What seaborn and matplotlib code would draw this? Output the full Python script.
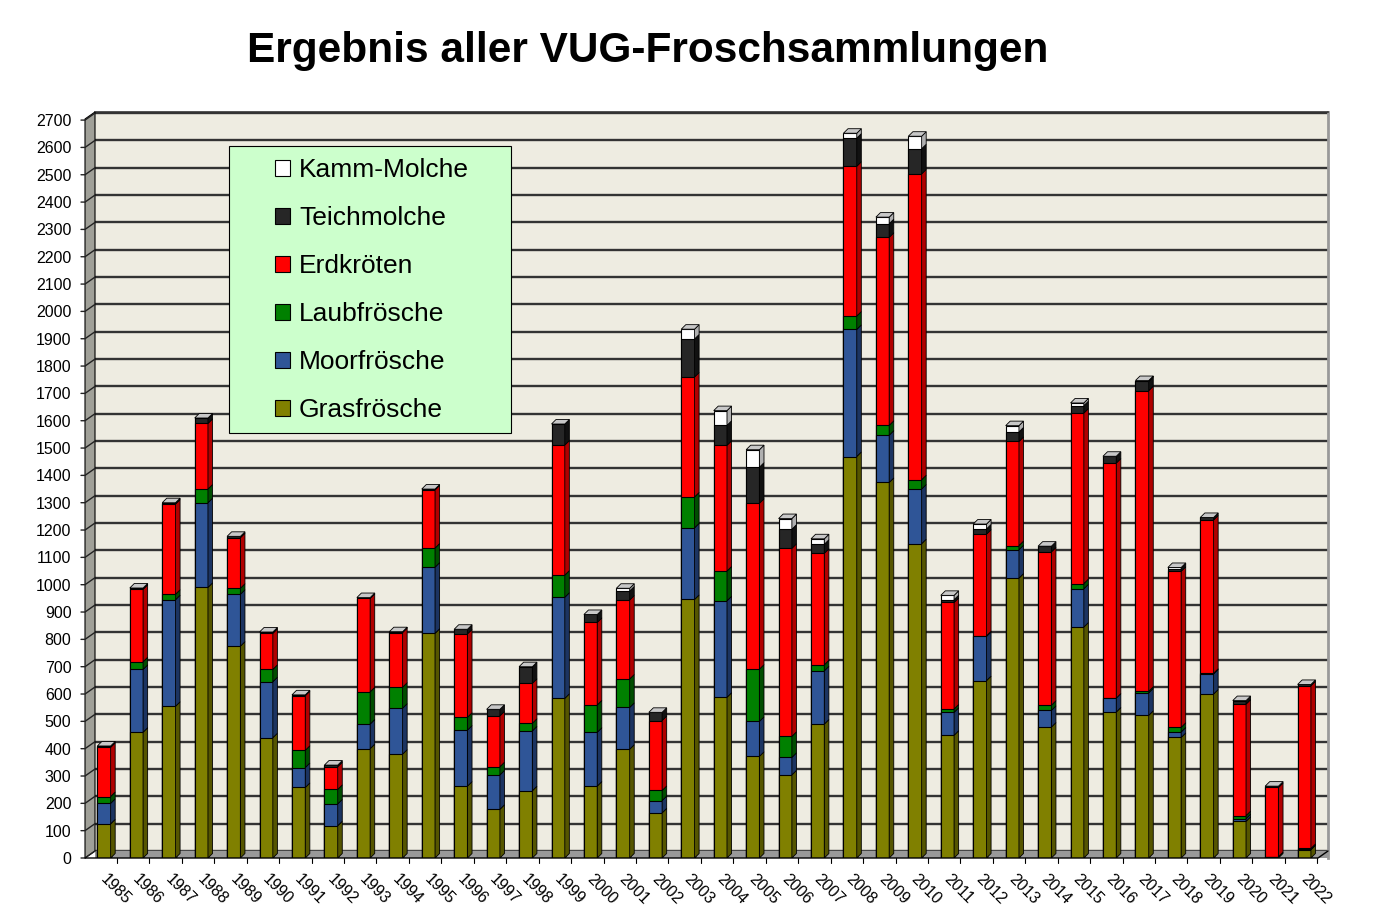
import numpy as np
import pandas as pd
import seaborn as sns
import matplotlib.pyplot as plt
import matplotlib.transforms as mtransforms
from matplotlib.patches import Polygon, Patch, Rectangle
from matplotlib.lines import Line2D

# --- DATA ---
years = [str(y) for y in range(1985, 2023)]
gras = [125, 460, 555, 990, 775, 440, 258, 118, 400, 380,
        822, 263, 178, 246, 584, 263, 398, 165, 946, 588,
        372, 304, 490, 1469, 1374, 1150, 449, 649, 1024, 479,
        845, 534, 522, 441, 600, 134, 5, 30]
moor = [75, 230, 390, 310, 190, 205, 73, 80, 90, 168,
        242, 205, 126, 219, 370, 197, 153, 45, 262, 353,
        128, 64, 195, 465, 173, 200, 84, 162, 104, 61,
        140, 51, 82, 20, 74, 10, 0, 2]
laub = [25, 28, 20, 50, 22, 45, 63, 53, 118, 77,
        70, 47, 30, 28, 81, 100, 104, 37, 113, 109,
        191, 77, 22, 49, 36, 34, 12, 2, 15, 19,
        19, 0, 6, 17, 2, 11, 0, 3]
erd = [180, 265, 330, 240, 185, 132, 200, 83, 342, 200,
       213, 305, 186, 146, 476, 302, 289, 256, 439, 460,
       607, 688, 408, 548, 688, 1119, 390, 372, 381, 561,
       624, 860, 1100, 571, 561, 408, 253, 595]
teich = [5, 5, 5, 20, 5, 5, 3, 6, 3, 3,
         3, 17, 24, 61, 77, 29, 33, 30, 139, 73,
         132, 70, 33, 103, 50, 92, 10, 19, 35, 21,
         27, 25, 34, 10, 9, 13, 5, 5]
kamm = [0, 0, 0, 0, 0, 0, 0, 0, 0, 0,
        0, 0, 0, 0, 0, 0, 10, 0, 36, 54,
        64, 39, 20, 18, 24, 46, 16, 18, 23, 0,
        10, 0, 3, 4, 0, 0, 0, 0]

series = ["Grasfrösche", "Moorfrösche", "Laubfrösche",
          "Erdkröten", "Teichmolche", "Kamm-Molche"]
y_ticks = list(range(0, 2800, 100))

# --- STYLE ---
FRONT = {"Grasfrösche": "#808000", "Moorfrösche": "#2f5597",
         "Laubfrösche": "#008000", "Erdkröten": "#ff0000",
         "Teichmolche": "#262626", "Kamm-Molche": "#ffffff"}
SIDE = {"Grasfrösche": "#555500", "Moorfrösche": "#1c3461",
        "Laubfrösche": "#004d00", "Erdkröten": "#b00000",
        "Teichmolche": "#111111", "Kamm-Molche": "#b0b0b0"}

W, H = 1381, 914
AX_L, AX_R, AX_T, AX_B = 95, 1328, 112, 858     # back wall, pixels
PX_PER_UNIT = 0.2733
CENTER0, STEP = 104, 32.44                      # bar centres in pixels
BAR_W = 0.41
WALL_DX, WALL_DY = 10, 7                         # wall depth in px
BAR_DX, BAR_DY = 0.14, 16.5                      # bar depth (data units)


def fx(px):
    return px / W


def fy(py):
    return 1 - py / H


df = pd.DataFrame({"Jahr": years, "Grasfrösche": gras, "Moorfrösche": moor,
                   "Laubfrösche": laub, "Erdkröten": erd,
                   "Teichmolche": teich, "Kamm-Molche": kamm})
cum = df[series].cumsum(axis=1)
cum.insert(0, "Jahr", df["Jahr"])

sns.set_style("white")
plt.rcParams['font.family'] = ['Liberation Sans', 'DejaVu Sans']
plt.rcParams.update({"text.color": "black", "xtick.color": "black",
                     "ytick.color": "black", "axes.labelcolor": "black"})

fig = plt.figure(figsize=(W / 100, H / 100), dpi=100)
ax = fig.add_axes([fx(AX_L), fy(AX_B), fx(AX_R - AX_L), (AX_B - AX_T) / H])
ax.set_facecolor("#eeece1")

# stacked bars: draw cumulative totals from top layer down
for s in reversed(series):
    sns.barplot(data=cum, x="Jahr", y=s, color=FRONT[s], saturation=1,
                width=BAR_W, edgecolor="black", linewidth=0.8,
                errorbar=None, ax=ax, zorder=3)

# 3D side and top faces
prev = np.zeros(len(years))
for s in series:
    top = cum[s].to_numpy()
    for i in range(len(years)):
        if top[i] > prev[i]:
            xr = i + BAR_W / 2
            ax.add_patch(Polygon([(xr, prev[i]), (xr + BAR_DX, prev[i] + BAR_DY),
                                  (xr + BAR_DX, top[i] + BAR_DY), (xr, top[i])],
                                 closed=True, facecolor=SIDE[s],
                                 edgecolor="black", lw=0.6, zorder=3))
    prev = top
for i, t in enumerate(prev):
    xl, xr = i - BAR_W / 2, i + BAR_W / 2
    ax.add_patch(Polygon([(xl, t), (xl + BAR_DX, t + BAR_DY),
                          (xr + BAR_DX, t + BAR_DY), (xr, t)],
                         closed=True, facecolor="#c8c8c8",
                         edgecolor="black", lw=0.6, zorder=3))

ymax = (AX_B - AX_T) / PX_PER_UNIT
ax.set_ylim(0, ymax)
ax.set_xlim((AX_L - CENTER0) / STEP, (AX_R - CENTER0) / STEP)

# back-wall gridlines (shifted up by the wall depth) and floor
wall_units = WALL_DY / PX_PER_UNIT
for v in y_ticks:
    ax.axhline(v + wall_units, color="#333333", lw=1.7, zorder=1)
ax.axhspan(0, wall_units, color="#999999", zorder=1.5)

ax.set_yticks(y_ticks)
ax.set_yticklabels([str(v) for v in y_ticks], fontsize=11.5)
ax.tick_params(axis="y", length=0, pad=17)
ax.set_xticks(range(len(years)))
ax.set_xticklabels(years, fontsize=11.5, rotation=-45, ha="left", va="top",
                   rotation_mode="anchor")
ax.tick_params(axis="x", length=0, pad=10)
offset = mtransforms.ScaledTranslation(4 / 100, 0, fig.dpi_scale_trans)
for lab in ax.get_xticklabels():
    lab.set_transform(lab.get_transform() + offset)
ax.set_xlabel("")
ax.set_ylabel("")
for side in ["left", "bottom"]:
    ax.spines[side].set_visible(False)
ax.spines["top"].set_color("#333333")
ax.spines["top"].set_linewidth(1.2)
ax.spines["right"].set_color("#999999")
ax.spines["right"].set_linewidth(2)

# left wall and front floor edge
fl, fb, ft = AX_L - WALL_DX, AX_B, AX_T + WALL_DY
fig.add_artist(Polygon([(fx(fl), fy(fb)), (fx(AX_L), fy(fb - WALL_DY)),
                        (fx(AX_L), fy(AX_T)), (fx(fl), fy(ft))],
                       closed=True, facecolor="#a0a098", edgecolor="black",
                       lw=0.8, transform=fig.transFigure, zorder=2))
for v in y_ticks:
    yp = AX_B - v * PX_PER_UNIT
    fig.add_artist(Line2D([fx(fl - 4), fx(fl), fx(AX_L)],
                          [fy(yp), fy(yp), fy(yp - WALL_DY)],
                          color="#222222", lw=1.0, transform=fig.transFigure,
                          zorder=2.5))
front_r = AX_R - WALL_DX
fig.add_artist(Line2D([fx(fl), fx(front_r), fx(AX_R)],
                      [fy(fb), fy(fb), fy(fb - WALL_DY)], color="black",
                      lw=1.0, transform=fig.transFigure, zorder=2.5))
for i in range(len(years)):
    xp = CENTER0 + (i + 0.4) * STEP
    fig.add_artist(Line2D([fx(xp), fx(xp)], [fy(fb), fy(fb + 5)],
                          color="black", lw=0.8, transform=fig.transFigure))

# title
fig.text(fx(648), fy(51), "Ergebnis aller VUG-Froschsammlungen",
         fontsize=30.5, fontweight="bold", ha="center", va="center",
         color="black")

# legend with its own box
fig.add_artist(Rectangle((fx(229), fy(433)), fx(511 - 229), (433 - 146) / H,
                         facecolor="#ccffcc", edgecolor="black", lw=0.8,
                         transform=fig.transFigure, zorder=4))
handles = [Patch(facecolor=FRONT[s], edgecolor="black", lw=0.8)
           for s in reversed(series)]
fig.legend(handles, list(reversed(series)), loc="center",
           bbox_to_anchor=(fx(372), fy(290)), frameon=False, fontsize=19,
           handlelength=0.55, handleheight=0.55, handletextpad=0.35,
           labelspacing=0.91)

fig.savefig("out.png", dpi=100)
